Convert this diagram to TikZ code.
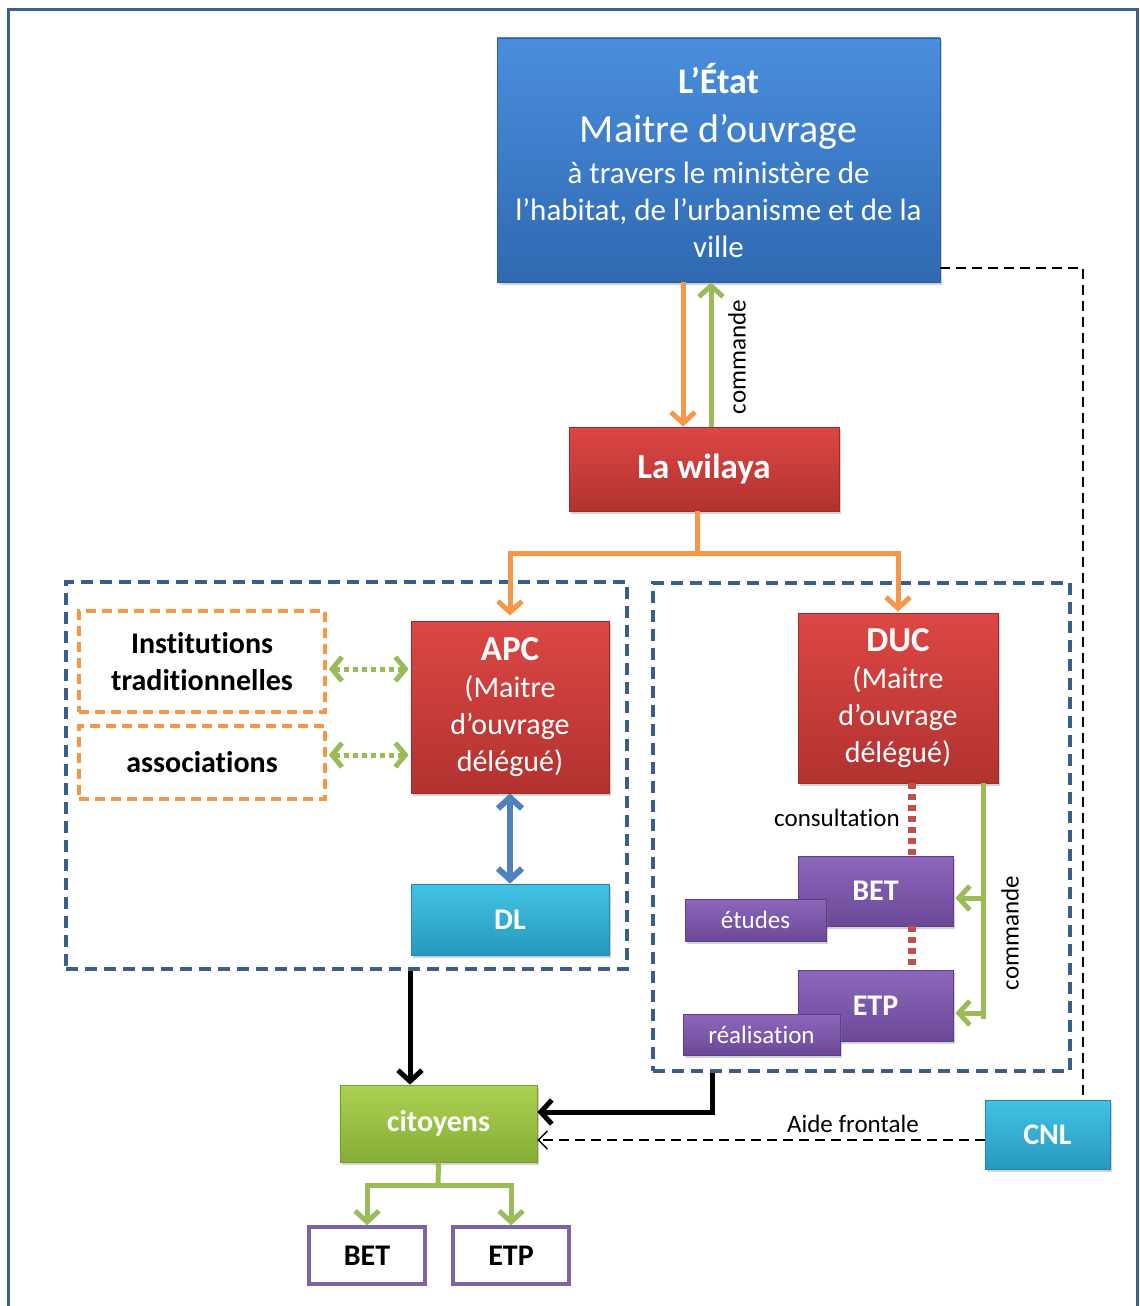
\documentclass[tikz,border=0pt]{standalone}
\usepackage{fontspec}
\setmainfont{Carlito}[Ligatures=NoCommon]
\usetikzlibrary{arrows.meta,shadows}
\definecolor{frameblue}{HTML}{3D5F8C}
\definecolor{dashblue}{HTML}{3A5E8C}
\definecolor{orangeL}{HTML}{F79646}
\definecolor{greenL}{HTML}{9BBB59}
\definecolor{blueL}{HTML}{4F81BD}
\definecolor{redL}{HTML}{C0504D}
\definecolor{purpleL}{HTML}{8064A2}
\definecolor{etatTop}{HTML}{4A8EDD}
\definecolor{etatBot}{HTML}{2F69B1}
\definecolor{etatBd}{HTML}{2C5E9E}
\definecolor{redTop}{HTML}{DC4744}
\definecolor{redBot}{HTML}{B13230}
\definecolor{redBd}{HTML}{9E2B29}
\definecolor{purTop}{HTML}{8C67BC}
\definecolor{purBot}{HTML}{6B4997}
\definecolor{purBd}{HTML}{5E3F87}
\definecolor{cyTop}{HTML}{42C3E3}
\definecolor{cyBot}{HTML}{2798BD}
\definecolor{cyBd}{HTML}{2388A8}
\definecolor{grTop}{HTML}{ABD152}
\definecolor{grBot}{HTML}{86AE36}
\definecolor{grBd}{HTML}{789C30}
\begin{document}
\begin{tikzpicture}[x=1pt,y=-1pt,
  solidbox/.style={rectangle, inner sep=0pt, align=center, text=white, line width=0.8pt,
    drop shadow={shadow xshift=2pt,shadow yshift=-3pt,opacity=0.35}},
  bluebox/.style={solidbox, top color=etatTop, bottom color=etatBot, draw=etatBd},
  redbox/.style={solidbox, top color=redTop, bottom color=redBot, draw=redBd},
  purbox/.style={solidbox, top color=purTop, bottom color=purBot, draw=purBd},
  cybox/.style={solidbox, top color=cyTop, bottom color=cyBot, draw=cyBd},
  grbox/.style={solidbox, top color=grTop, bottom color=grBot, draw=grBd},
  wbox/.style={rectangle, inner sep=0pt, align=center, text=black, fill=white},
  orangedash/.style={wbox, draw=orangeL, line width=3.5pt, dash pattern=on 10pt off 6pt},
  purframe/.style={wbox, draw=purpleL, line width=3.5pt},
  container/.style={rectangle, draw=dashblue, line width=4pt, dash pattern=on 12pt off 7pt, inner sep=0pt},
  titlefont/.style={font=\fontsize{35}{40}\selectfont\bfseries},
  bodyfont/.style={font=\fontsize{30}{37}\selectfont},
  boldfont/.style={font=\fontsize{30}{37}\selectfont\bfseries},
  labelfont/.style={font=\fontsize{25}{30}\selectfont},
  tipA/.style={},
  oarrow/.style={draw=orangeL, line width=5pt, -{Straight Barb[length=11pt,width=24pt]}},
  oline/.style={draw=orangeL, line width=5pt},
  garrow/.style={draw=greenL, line width=5pt, -{Straight Barb[length=11pt,width=24pt]}},
  gline/.style={draw=greenL, line width=5pt},
  gdots/.style={draw=greenL, line width=5pt, dash pattern=on 5pt off 4pt, {Straight Barb[length=10pt,width=24pt]}-{Straight Barb[length=10pt,width=24pt]}},
  barrow/.style={draw=blueL, line width=6pt, {Straight Barb[length=11pt,width=24pt]}-{Straight Barb[length=11pt,width=24pt]}},
  rdots/.style={draw=redL, line width=8pt, dash pattern=on 6pt off 5pt},
  karrow/.style={draw=black, line width=5pt, -{Straight Barb[length=11pt,width=24pt]}},
  dline/.style={draw=black, line width=1.4pt, dash pattern=on 10pt off 6pt},
  darrow/.style={dline, -{Straight Barb[length=9pt,width=18pt]}},
]
\useasboundingbox (0,0) rectangle (1140,1306);
\fill[white] (0,0) rectangle (1140,1306);
% outer frame
\draw[frameblue, line width=3pt] (8,1310) -- (8,10) -- (1137,10) -- (1137,1310);

% containers
\node[container, minimum width=561pt, minimum height=387pt] (leftbox) at (346.5,775.5) {};
\node[container, minimum width=417pt, minimum height=488pt] (rightbox) at (861.5,826.5) {};

% main boxes
\node[bluebox, minimum width=443pt, minimum height=244pt, font=\fontsize{31}{37}\selectfont] (etat) at (718.5,160)
  {{\fontsize{36}{36}\selectfont\bfseries L’État}\\[12pt]{\fontsize{40}{40}\selectfont Maitre d’ouvrage}\\[4pt]à travers le ministère de\\l’habitat, de l’urbanisme et de la\\ville};
\node[redbox, titlefont, minimum width=270pt, minimum height=84pt] (wilaya) at (704,469) {La wilaya};
\node[redbox, bodyfont, minimum width=198pt, minimum height=172pt] (apc) at (510,707)
  {{\fontsize{35}{35}\selectfont\bfseries APC}\\(Maitre\\d’ouvrage\\délégué)};
\node[cybox, boldfont, minimum width=198pt, minimum height=71pt] (dl) at (510,919.5) {DL};
\node[redbox, bodyfont, minimum width=200pt, minimum height=170pt] (duc) at (898,698)
  {{\fontsize{35}{35}\selectfont\bfseries DUC}\\(Maitre\\d’ouvrage\\délégué)};
\node[purbox, boldfont, minimum width=155pt, minimum height=70pt] (bet) at (875.5,891) {BET};
\node[purbox, labelfont, minimum width=141pt, minimum height=42pt] (etudes) at (755.5,920) {études};
\node[purbox, boldfont, minimum width=155pt, minimum height=71pt] (etp) at (875.5,1005.5) {ETP};
\node[purbox, labelfont, minimum width=157pt, minimum height=41pt] (real) at (761.5,1034.5) {réalisation};
\node[grbox, boldfont, minimum width=197pt, minimum height=77pt] (cit) at (438.5,1123.5) {citoyens};
\node[cybox, boldfont, minimum width=125pt, minimum height=69pt] (cnl) at (1047.5,1134.5) {CNL};

\node[orangedash, boldfont, minimum width=246pt, minimum height=101pt] (inst) at (202,661.5) {Institutions\\traditionnelles};
\node[orangedash, boldfont, minimum width=246pt, minimum height=73pt] (assoc) at (202,762.5) {associations};
\node[purframe, boldfont, minimum width=116pt, minimum height=57pt] (bet2) at (367,1255.5) {BET};
\node[purframe, boldfont, minimum width=116pt, minimum height=57pt] (etp2) at (511,1255.5) {ETP};

% helper coordinates
\coordinate (c683) at (683,0);
\coordinate (c711) at (711,0);
\coordinate (split) at (697,553);
\coordinate (d1) at (0,669);
\coordinate (d2) at (0,755);
\coordinate (c912) at (912,0);
\coordinate (c983) at (983,0);
\coordinate (cmdB) at (983,898);
\coordinate (cmdE) at (983,1013);
\coordinate (c410) at (410,0);
\coordinate (blk) at (712,1112);
\coordinate (cnlx) at (1083,268);
\coordinate (ai) at (0,1140);
\coordinate (gsplit) at (438,1185);

% connectors
\draw[oarrow] (etat.south -| c683) -- (wilaya.north -| c683);
\draw[garrow] (wilaya.north -| c711) -- (etat.south -| c711);
\node[labelfont, rotate=90] (cmd1) at (737,357) {commande};

\draw[oline] (wilaya.south -| split) -- (split);
\draw[oarrow, shorten >=5pt] (split) -| (apc.north);
\draw[oarrow, shorten >=1pt] (split) -| (duc.north);

\draw[gdots, shorten <=2pt, shorten >=2pt] (inst.east |- d1) -- (apc.west |- d1);
\draw[gdots, shorten <=2pt, shorten >=2pt] (assoc.east |- d2) -- (apc.west |- d2);
\draw[barrow] (apc.south) -- (dl.north);

\draw[rdots] (duc.south -| c912) -- (bet.north -| c912);
\draw[rdots] (bet.south -| c912) -- (etp.north -| c912);
\node[labelfont] (consult) at (837,818) {consultation};

\draw[gline] (duc.south -| c983) -- ([yshift=-6pt]cmdE);
\draw[garrow, shorten >=2pt] (cmdB) -- (bet.east |- cmdB);
\draw[garrow, shorten >=2pt] (cmdE) -- (etp.east |- cmdE);
\node[labelfont, rotate=90] (cmd2) at (1010,933) {commande};

\draw[karrow] (leftbox.south -| c410) -- (cit.north -| c410);
\draw[karrow] (rightbox.south -| blk) -- (blk) -- (cit.east |- blk);

\draw[dline] (etat.east |- cnlx) -- (cnlx) -- (cnl.north -| cnlx);
\draw[darrow] (cnl.west |- ai) -- (cit.east |- ai);
\node[labelfont] (aide) at (853,1124) {Aide frontale};

\draw[gline] (cit.south) -- (gsplit);
\draw[garrow] (gsplit) -| (bet2.north);
\draw[garrow] (gsplit) -| (etp2.north);
\end{tikzpicture}
\end{document}
